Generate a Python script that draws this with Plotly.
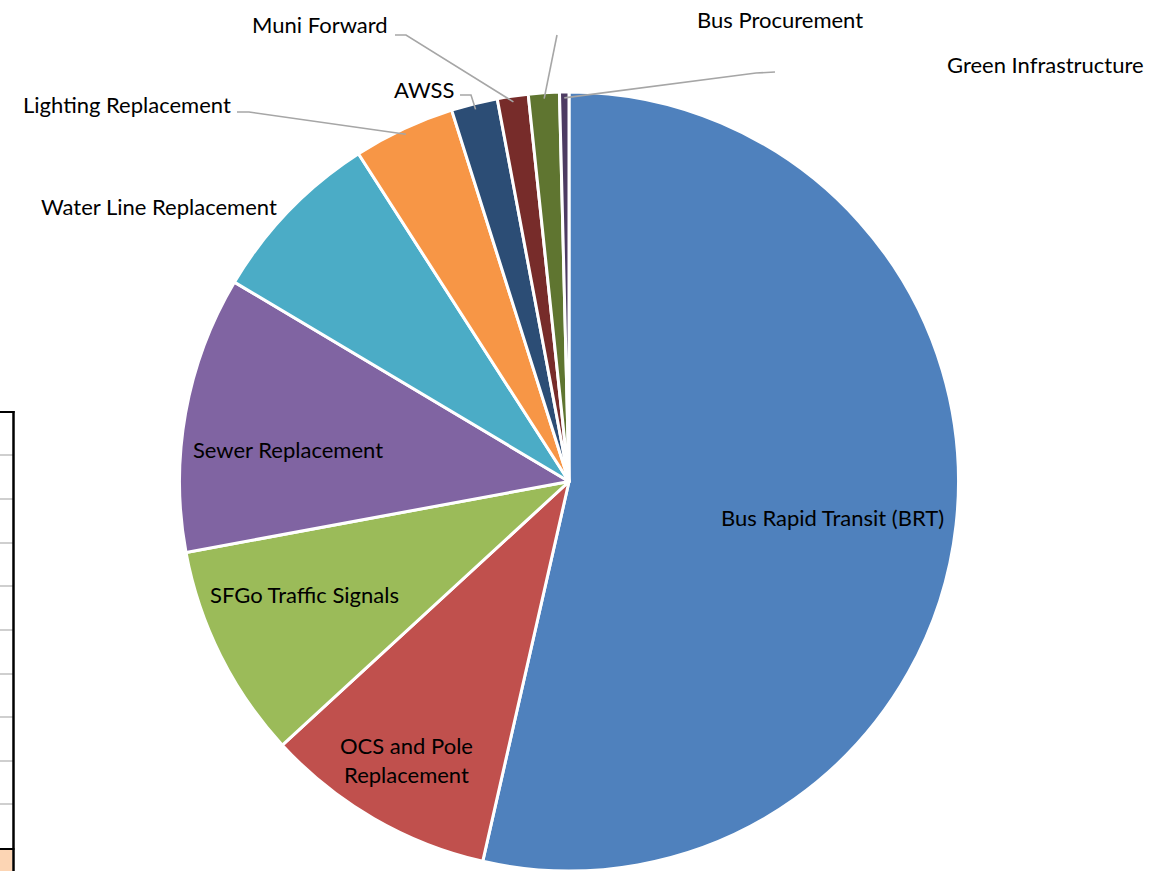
import math
import plotly.graph_objects as go

# ---- data ----
categories = [
    "Bus Rapid Transit (BRT)", "OCS and Pole Replacement", "SFGo Traffic Signals",
    "Sewer Replacement", "Water Line Replacement", "Lighting Replacement",
    "AWSS", "Muni Forward", "Bus Procurement", "Green Infrastructure",
]
shares = [53.56, 9.61, 8.92, 11.47, 7.36, 4.22, 1.92, 1.28, 1.28, 0.39]
colors = ["#4F81BD", "#C0504D", "#9BBB59", "#8064A2", "#4BACC6",
          "#F79646", "#2C4D75", "#772C2A", "#5F7530", "#4D3B62"]

W, H = 1160, 871
CX, CY, R = 569, 482, 390   # pie centre / radius in pixels (layout)


def px(x):
    return x / W


def py(y):
    return 1 - y / H


fig = go.Figure(go.Pie(
    labels=categories, values=shares, sort=False, direction="clockwise",
    rotation=0, textinfo="none", hoverinfo="label+percent",
    marker=dict(colors=colors, line=dict(color="white", width=3)),
    domain=dict(x=[px(CX - R), px(CX + R)], y=[max(0, py(CY + R)), py(CY - R)]),
    showlegend=False,
))

FONT = dict(family="Lato, Carlito, sans-serif", size=22, color="black")

# label placement (pixel positions of label centres)
label_pos = {
    "Bus Rapid Transit (BRT)": (832, 517),
    "OCS and Pole Replacement": (406, 760),
    "SFGo Traffic Signals": (304, 594),
    "Sewer Replacement": (288, 450),
    "Water Line Replacement": (159, 207),
    "Lighting Replacement": (127, 104),
    "AWSS": (424, 90),
    "Muni Forward": (320, 25),
    "Bus Procurement": (780, 19),
    "Green Infrastructure": (1045, 64),
}
label_text = {"OCS and Pole Replacement": "OCS and Pole<br>Replacement"}

annotations = []
for name in categories:
    x, y = label_pos[name]
    annotations.append(dict(
        x=px(x), y=py(y), xref="paper", yref="paper", showarrow=False,
        text=label_text.get(name, name), font=FONT, xanchor="center", yanchor="middle",
    ))

# leader lines: start near label, end on the slice edge at its mid angle
total = sum(shares)
mid_angle = {}
cum = 0.0
for name, v in zip(categories, shares):
    mid_angle[name] = (cum + v / 2) / total * 2 * math.pi
    cum += v

leader_start = {
    "Lighting Replacement": [(237, 112), (249, 112)],
    "AWSS": [(460, 95), (471, 95)],
    "Muni Forward": [(395, 35), (406, 35)],
    "Bus Procurement": [(557, 35)],
    "Green Infrastructure": [(775, 72), (756, 73)],
}

shapes = []
for name, pts in leader_start.items():
    a = mid_angle[name]
    ex = CX + 0.985 * R * math.sin(a)
    ey = CY - 0.985 * R * math.cos(a)
    path_pts = pts + [(ex, ey)]
    d = "M " + " L ".join(f"{px(x)},{py(y)}" for x, y in path_pts)
    shapes.append(dict(type="path", path=d, xref="paper", yref="paper",
                       line=dict(color="#A6A6A6", width=1.6)))

# fragment of neighbouring spreadsheet table on the left edge
row_lines = [455, 499, 543, 586, 630, 674, 717, 761, 804]
for y in row_lines:
    shapes.append(dict(type="line", xref="paper", yref="paper",
                       x0=0, x1=px(13), y0=py(y), y1=py(y),
                       line=dict(color="#CFCFCF", width=2)))
shapes.append(dict(type="rect", xref="paper", yref="paper",
                   x0=0, x1=px(12.5), y0=py(871), y1=py(850),
                   fillcolor="#FCD5B4", line=dict(width=0)))
shapes.append(dict(type="line", xref="paper", yref="paper",
                   x0=0, x1=px(14.5), y0=py(412), y1=py(412),
                   line=dict(color="black", width=2)))
shapes.append(dict(type="line", xref="paper", yref="paper",
                   x0=0, x1=px(14.5), y0=py(849), y1=py(849),
                   line=dict(color="black", width=2)))
shapes.append(dict(type="line", xref="paper", yref="paper",
                   x0=px(13.5), x1=px(13.5), y0=py(411), y1=py(871),
                   line=dict(color="black", width=2.5)))

fig.update_layout(
    width=W, height=H, margin=dict(l=0, r=0, t=0, b=0),
    paper_bgcolor="white", plot_bgcolor="white",
    annotations=annotations, shapes=shapes,
)

fig.write_html("out.html", config={"displayModeBar": False},
               post_script="document.body.style.margin='0';document.body.style.overflow='hidden';")
